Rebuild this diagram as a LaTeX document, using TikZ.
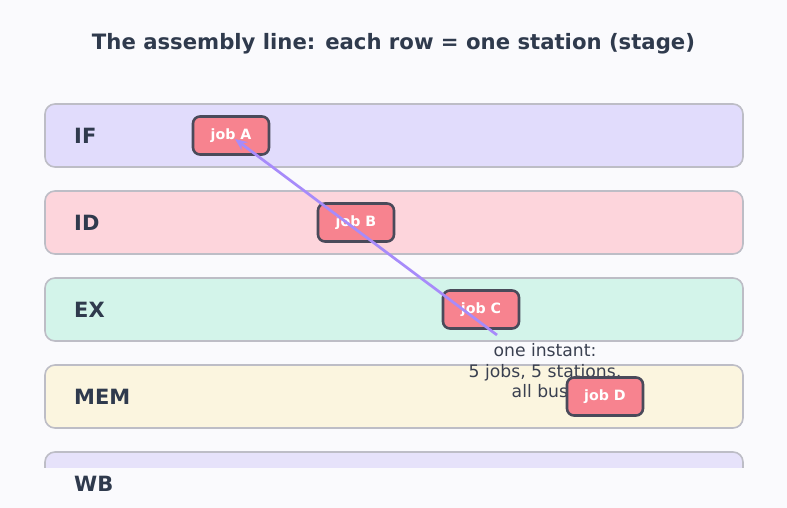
\documentclass[tikz,border=0pt]{standalone}
\usepackage{fontspec}
\setmainfont{DejaVu Sans}
\usetikzlibrary{arrows.meta}
\definecolor{bgc}{HTML}{FAFAFD}
\definecolor{ink}{HTML}{2F3A4D}
\definecolor{rowline}{HTML}{BDBDC6}
\definecolor{cIF}{HTML}{E1DCFC}
\definecolor{cID}{HTML}{FDD5DC}
\definecolor{cEX}{HTML}{D3F4EA}
\definecolor{cMEM}{HTML}{FBF5DF}
\definecolor{cWB}{HTML}{E6E2FA}
\definecolor{jobfill}{HTML}{F7838F}
\definecolor{jobline}{HTML}{4A4A5A}
\definecolor{arr}{HTML}{A78BFA}
\definecolor{note}{HTML}{3A4050}
\tikzset{
  rowbox/.style={draw=rowline, line width=1.6pt, rounded corners=10pt},
  rowlabel/.style={anchor=west, text=ink, font=\fontsize{21}{24}\selectfont\bfseries, inner sep=0pt},
  jobbox/.style={draw=jobline, fill=jobfill, line width=2.6pt, rounded corners=7pt, minimum width=76pt, minimum height=38pt, text=white, font=\fontsize{14.2}{17}\selectfont\bfseries, inner sep=0pt},
  notetext/.style={text=note, font=\fontsize{17.2}{20.5}\selectfont, align=center, inner sep=0pt},
  flow/.style={draw=arr, line width=2.7pt, -{Stealth[length=12pt,width=10pt]}}
}
\begin{document}
\begin{tikzpicture}[x=1pt,y=-1pt]
\fill[bgc] (0,0) rectangle (787,508);
\useasboundingbox (0,0) rectangle (787,508);
\node[text=ink, font=\fontsize{21.2}{24}\selectfont\bfseries] (title) at (393.5,43.5) {The assembly line: each row = one station (stage)};
% rows
\draw[rowbox, fill=cIF] (45,104) rectangle (743,167);
\draw[rowbox, fill=cID] (45,191) rectangle (743,254);
\draw[rowbox, fill=cEX] (45,278) rectangle (743,341);
\draw[rowbox, fill=cMEM] (45,365) rectangle (743,428);
\begin{scope}
\clip (0,440) rectangle (787,467);
\draw[rowbox, fill=cWB] (45,452) rectangle (743,515);
\end{scope}
\node[rowlabel] (lIF) at (74,135.5) {IF};
\node[rowlabel] (lID) at (74,222.5) {ID};
\node[rowlabel] (lEX) at (74,309.5) {EX};
\node[rowlabel] (lMEM) at (74,396.5) {MEM};
\node[rowlabel] (lWB) at (74,483.5) {WB};
% note
\node[notetext] (note) at (545,372.5) {one instant:\\5 jobs, 5 stations,\\all busy};
% jobs
\node[jobbox] (jA) at (231,135.5) {job A};
\node[jobbox] (jB) at (356,222.5) {job B};
\node[jobbox] (jC) at (481,309.5) {job C};
\node[jobbox] (jD) at (605,396.5) {job D};
\coordinate (start) at (497,335);
\coordinate (tipA) at ([shift={(4,3.5)}]jA.center);
\draw[flow] (start) -- (tipA);
\end{tikzpicture}
\end{document}
